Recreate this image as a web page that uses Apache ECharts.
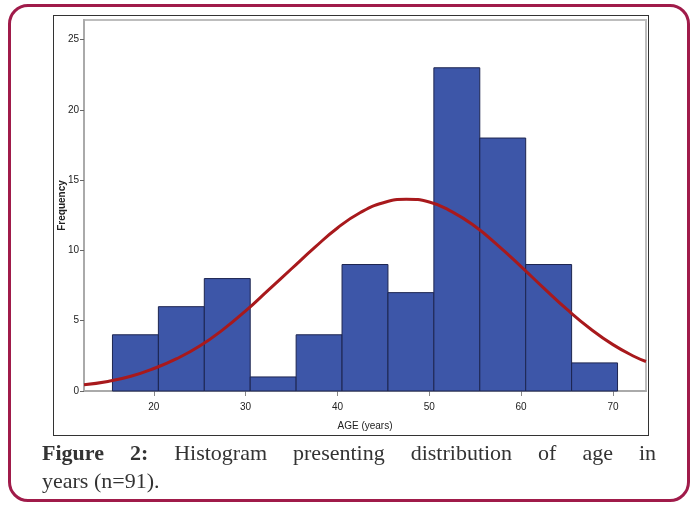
<!DOCTYPE html>
<html>
<head>
<meta charset="utf-8">
<script src="https://cdn.jsdelivr.net/npm/echarts@6/dist/echarts.min.js"></script>
<style>
  html, body { margin: 0; padding: 0; background: #fff; }
  .page { position: relative; width: 694px; height: 506px; overflow: hidden; }
  .outer {
    position: absolute; left: 8px; top: 4px; width: 676px; height: 492px;
    border: 3px solid #a01b4a; border-radius: 20px;
  }
  .frame {
    position: absolute; left: 53px; top: 15px; width: 594px; height: 419px;
    border: 1px solid #333;
  }
  #chart { position: absolute; left: 0; top: 0; width: 694px; height: 506px; }
  .caption {
    position: absolute; left: 42px; top: 439px; width: 614px;
    font-family: "Liberation Serif", "DejaVu Serif", serif;
    font-size: 22px; line-height: 28px; color: #333;
  }
  .caption .l1 { text-align: justify; text-align-last: justify; }
</style>
</head>
<body>
<div class="page">
  <div class="outer"></div>
  <div class="frame"></div>
  <div id="chart"></div>
  <div class="caption">
    <div class="l1"><b>Figure 2:</b> Histogram presenting distribution of age in</div>
    <div>years (n=91).</div>
  </div>
</div>
<script>
// histogram bins (age, years) and counts
const binStart = [15.5, 20.5, 25.5, 30.5, 35.5, 40.5, 45.5, 50.5, 55.5, 60.5, 65.5];
const binEnd   = [20.5, 25.5, 30.5, 35.5, 40.5, 45.5, 50.5, 55.5, 60.5, 65.5, 70.5];
const counts   = [4, 6, 8, 1, 4, 9, 7, 23, 18, 9, 2];

// normal curve
const curveAge  = [12.4, 15, 17.5, 20, 22.5, 25, 27.5, 30, 32.5, 35, 37.5, 40, 42.5, 45, 47.5, 50, 52.5, 55, 57.5, 60, 62.5, 65, 67.5, 70, 72.5, 73.6];
const curveFreq = [0.45, 0.68, 1.05, 1.6, 2.3, 3.2, 4.35, 5.7, 7.2, 8.7, 10.2, 11.6, 12.7, 13.4, 13.65, 13.45, 12.75, 11.7, 10.35, 8.85, 7.3, 5.8, 4.45, 3.3, 2.4, 2.1];

const xTicks = [20, 30, 40, 50, 60, 70];
const yTicks = [0, 5, 10, 15, 20, 25];

const myChart = echarts.init(document.getElementById('chart'));

const option = {
  animation: false,
  grid: {
    left: 84, top: 20, right: 48, bottom: 115,
    show: true,
    borderColor: '#bdbdbd',
    borderWidth: 2
  },
  xAxis: {
    type: 'value',
    min: 12.4,
    max: 73.6,
    name: 'AGE (years)',
    nameLocation: 'middle',
    nameGap: 30,
    nameMoveOverlap: false,
    nameTextStyle: { fontFamily: 'Liberation Sans, Arial', fontSize: 10, color: '#222' },
    axisLine: { show: true, lineStyle: { color: '#aaa', width: 2 } },
    axisTick: {
      show: true, length: 5, customValues: xTicks,
      lineStyle: { color: '#888', width: 1 }
    },
    axisLabel: {
      customValues: xTicks,
      fontFamily: 'Liberation Sans, Arial', fontSize: 10, color: '#222', margin: 11
    },
    splitLine: { show: false }
  },
  yAxis: {
    type: 'value',
    min: 0,
    max: 26.4,
    name: 'Frequency',
    nameLocation: 'middle',
    nameGap: 17,
    nameMoveOverlap: false,
    nameTextStyle: { fontFamily: 'Liberation Sans, Arial', fontSize: 10, fontWeight: 'bold', color: '#222' },
    axisLine: { show: true, lineStyle: { color: '#aaa', width: 2 } },
    axisTick: { show: true, length: 4, customValues: yTicks, lineStyle: { color: '#666' } },
    axisLabel: {
      customValues: yTicks,
      fontFamily: 'Liberation Sans, Arial', fontSize: 10, color: '#222', margin: 5
    },
    splitLine: { show: false }
  },
  series: [
    {
      type: 'custom',
      data: binStart.map((s, i) => [s, binEnd[i], counts[i]]),
      renderItem: function (params, api) {
        const p0 = api.coord([api.value(0), 0]);
        const p1 = api.coord([api.value(1), api.value(2)]);
        return {
          type: 'rect',
          shape: { x: p0[0], y: p1[1], width: p1[0] - p0[0], height: p0[1] - p1[1] },
          style: { fill: '#3d56a8', stroke: '#1d2550', lineWidth: 1 }
        };
      },
      z: 2
    },
    {
      type: 'line',
      smooth: true,
      symbol: 'none',
      data: curveAge.map((a, i) => [a, curveFreq[i]]),
      lineStyle: { color: '#a8191c', width: 3 },
      z: 3
    }
  ]
};

myChart.setOption(option);
</script>
</body>
</html>
